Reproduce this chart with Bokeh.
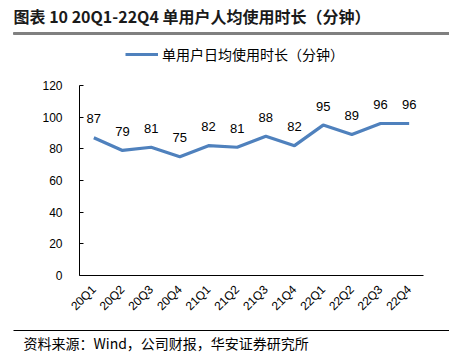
import math
from bokeh.plotting import figure
from bokeh.layouts import column
from bokeh.models import (ColumnDataSource, FactorRange, Range1d, FixedTicker,
                          Legend, LegendItem)
from bokeh.core.properties import value
from bokeh.embed import file_html
from bokeh.resources import INLINE

quarters = ["20Q1", "20Q2", "20Q3", "20Q4", "21Q1", "21Q2",
            "21Q3", "21Q4", "22Q1", "22Q2", "22Q3", "22Q4"]
minutes = [87, 79, 81, 75, 82, 81, 88, 82, 95, 89, 96, 96]
y_ticks = [0, 20, 40, 60, 80, 100, 120]

title_text = "图表 10 20Q1-22Q4 单用户人均使用时长（分钟）"
series_name = "单用户日均使用时长（分钟）"
source_text = "资料来源：Wind，公司财报，华安证券研究所"

W = 449
TITLE_H, RULE_H, LEG_H, MAIN_H, FOOT_H = 26, 14, 30, 252, 37
HEAD_H = TITLE_H + RULE_H + LEG_H
LINE_COLOR = "#4F81BD"


def blank(h):
    f = figure(width=W, height=h, x_range=Range1d(0, W), y_range=Range1d(h, 0),
               output_backend="svg", toolbar_location=None,
               x_axis_type=None, y_axis_type=None,
               min_border=0, min_border_left=0, min_border_right=0,
               min_border_top=0, min_border_bottom=0, frame_align=False)
    f.outline_line_color = None
    f.xgrid.visible = False
    f.ygrid.visible = False
    f.background_fill_color = "white"
    f.border_fill_color = "white"
    return f


# ---- title
title_fig = blank(TITLE_H)
title_fig.text(x=[13], y=[15], text=[title_text], text_font=value("Noto Sans CJK SC"),
               text_font_style="bold", text_font_size="16px", text_baseline="middle",
               text_color="#1a1a1a")

# ---- grey rule under the title (a thin filled band)
rule_fig = blank(RULE_H)
rule_fig.quad(left=[13], right=[W], top=[6], bottom=[8],
              fill_color="#808080", fill_alpha=1.0, line_color="#808080",
              line_width=1)

# ---- legend
leg_fig = blank(LEG_H)
dummy = leg_fig.line(x=[-20, -10], y=[-20, -20], line_color=LINE_COLOR, line_width=3.2)
legend = Legend(items=[LegendItem(label=series_name, renderers=[dummy])],
                location=(125, 6), glyph_width=33, glyph_height=20,
                label_standoff=4, padding=0, margin=0, border_line_alpha=0,
                background_fill_alpha=0, label_text_font="Noto Sans CJK SC",
                label_text_font_size="14px", label_text_color="#000000",
                label_height=20)
leg_fig.add_layout(legend)

# ---- main chart
FL, FR, FT, FB = 79, 423, 85 - HEAD_H, 275 - HEAD_H
src = ColumnDataSource(dict(q=quarters, v=minutes, t=[str(m) for m in minutes]))
p = figure(width=W, height=MAIN_H, x_range=FactorRange(*quarters, range_padding=0),
           y_range=Range1d(0, 120), output_backend="svg", toolbar_location=None,
           min_border_left=FL, min_border_right=W - FR,
           min_border_top=FT, min_border_bottom=MAIN_H - FB, frame_align=False)
p.outline_line_color = None
p.xgrid.visible = False
p.ygrid.visible = False
p.background_fill_color = "white"
p.border_fill_color = "white"

p.line("q", "v", source=src, line_color=LINE_COLOR, line_width=3.2)
p.text("q", "v", text="t", source=src, text_align="center", text_baseline="alphabetic",
       y_offset=-19, text_font=value("Liberation Sans"), text_font_size="13px",
       text_color="#000000")

p.yaxis.ticker = FixedTicker(ticks=y_ticks)
for ax in (p.xaxis[0], p.yaxis[0]):
    ax.axis_line_color = "#000000"
    ax.axis_line_width = 1
    ax.major_label_text_font = "Liberation Sans"
    ax.major_label_text_font_size = "12px"
    ax.major_label_text_color = "#000000"
    ax.minor_tick_line_color = None
p.yaxis.major_tick_in = 4
p.yaxis.major_tick_out = 0
p.yaxis.major_tick_line_color = "#000000"
p.yaxis.major_label_standoff = 17
p.xaxis.major_tick_in = 0
p.xaxis.major_tick_out = 0
p.xaxis.major_tick_line_color = None
p.xaxis.major_label_orientation = math.pi / 4
p.xaxis.major_label_standoff = 12

# ---- footer: rule and source
foot = blank(FOOT_H)
foot.segment(x0=[13], y0=[8], x1=[W], y1=[8], line_color="#000000", line_width=1)
foot.text(x=[23], y=[20], text=[source_text], text_font=value("Noto Sans CJK SC"),
          text_font_size="14px", text_baseline="middle", text_color="#000000")

layout = column(title_fig, rule_fig, leg_fig, p, foot, spacing=0)
open("out.html", "w").write(file_html(layout, INLINE))
